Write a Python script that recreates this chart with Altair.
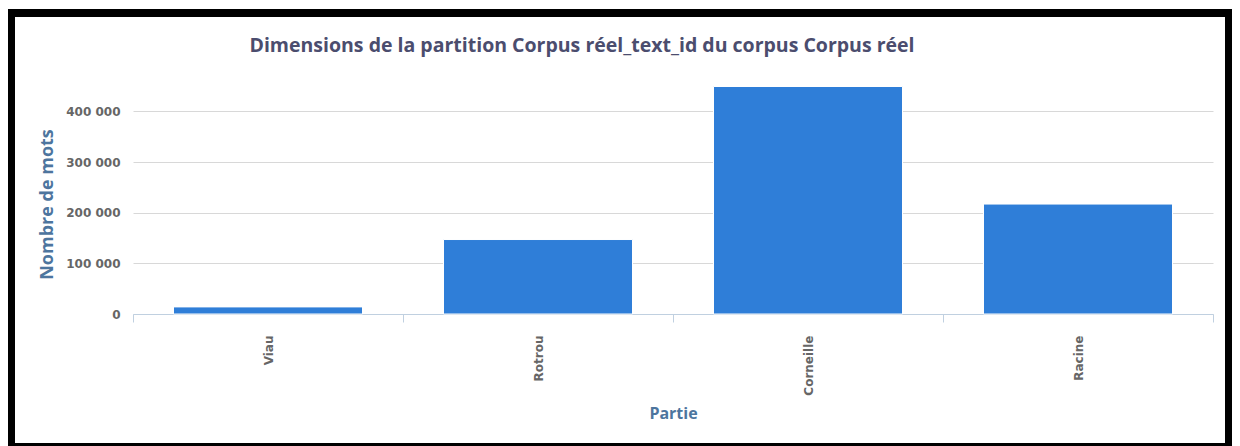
import altair as alt
import pandas as pd

categories = ["Viau", "Rotrou", "Corneille", "Racine"]
values = [14000, 147000, 449000, 217000]
y_ticks = [0, 100000, 200000, 300000, 400000]

df = pd.DataFrame({"Partie": categories, "Mots": values})

title = alt.TitleParams(
    "Dimensions de la partition Corpus réel_text_id du corpus Corpus réel",
    anchor="middle", dx=-91, dy=62, offset=0, baseline="alphabetic",
    font="Open Sans", fontSize=19.5, fontWeight="bold", color="#4b4d6e",
)

bars = alt.Chart(df).mark_bar(
    color="#2f7ed8", stroke="#ffffff", strokeWidth=1, width=alt.RelativeBandSize(0.7)
).encode(
    x=alt.X("Partie:N", sort=categories,
            scale=alt.Scale(paddingInner=0, paddingOuter=0),
            axis=alt.Axis(title="Partie", labelAngle=270, labelAlign="right", labelBaseline="middle",
                          labelFont="DejaVu Sans", labelFontSize=12, labelFontWeight="bold",
                          labelColor="#666666", labelPadding=13,
                          tickBand="extent", tickSize=8, tickColor="#c0d0e0",
                          domainColor="#c0d0e0", grid=False,
                          titleFont="Open Sans", titleFontSize=16, titleFontWeight="bold",
                          titleColor="#4d759e", titleY=104, titleBaseline="alphabetic")),
    y=alt.Y("Mots:Q", scale=alt.Scale(domain=[0, 450000], nice=False),
            axis=alt.Axis(title="Nombre de mots", values=y_ticks,
                          labelExpr="replace(format(datum.value, ','), ',', ' ')",
                          labelFont="DejaVu Sans", labelFontSize=12, labelFontWeight="bold",
                          labelColor="#666666", labelPadding=13, ticks=False, domain=False,
                          gridColor="#d8d8d8", gridWidth=1,
                          titleFont="Open Sans", titleFontSize=18, titleFontWeight="bold",
                          titleColor="#4d759e", titleAngle=270, titleAlign="center",
                          titleBaseline="alphabetic", titleX=-81, titleY=118)),
)

frame = alt.Chart(pd.DataFrame({"f": [0]})).mark_rect(
    fillOpacity=0, stroke="#000000", strokeWidth=8
).encode(x=alt.value(-122), x2=alt.value(1096), y=alt.value(-73), y2=alt.value(361))

chart = alt.layer(bars, frame).properties(
    width=1080, height=228, title=title,
    autosize=alt.AutoSizeParams(type="none"),
    padding={"left": 125, "top": 78, "right": 19, "bottom": 132},
).configure_view(stroke=None)

chart.save("out.html", embed_options={"renderer": "svg", "actions": False})
